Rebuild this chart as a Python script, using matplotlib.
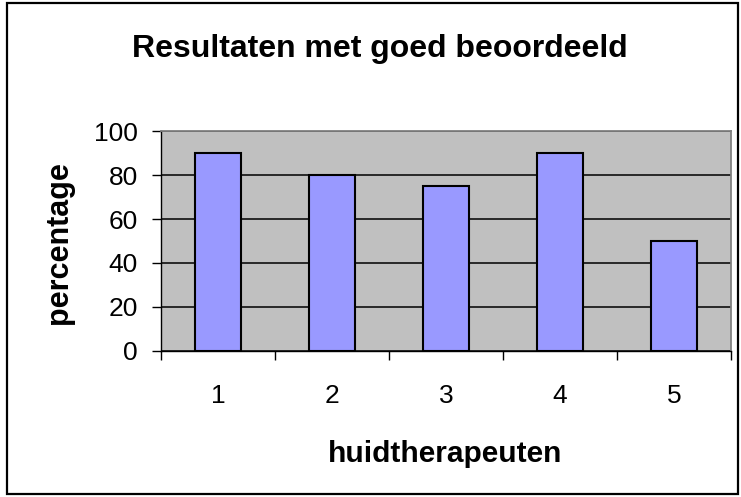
import numpy as np
import matplotlib.pyplot as plt
from matplotlib.patches import Rectangle

# data
categories = ['1', '2', '3', '4', '5']
percentages = [90, 80, 75, 90, 50]

plt.rcParams['font.family'] = ['Liberation Sans', 'DejaVu Sans']

W, H = 741, 497
fig = plt.figure(figsize=(W / 100, H / 100), dpi=100)

# outer chart border
fig.patches.append(Rectangle((7 / W, 3 / H), 731 / W, 491 / H, transform=fig.transFigure,
                             fill=False, edgecolor='black', linewidth=1.6))

ax = fig.add_axes([161 / W, (H - 351) / H, 570 / W, 220 / H])
ax.set_facecolor('#C0C0C0')

xs = np.arange(len(categories))
ax.bar(xs, percentages, width=0.4, color='#9999FF', edgecolor='black', linewidth=1.5, zorder=3)

ax.set_xlim(-0.5, len(categories) - 0.5)
ax.set_ylim(0, 100)
ax.set_yticks(np.arange(0, 101, 20))
ax.yaxis.grid(True, color='black', linewidth=1.1, zorder=1)
ax.set_axisbelow(True)

# category ticks between bars, labels centred under bars
ax.set_xticks(np.arange(-0.5, len(categories)), minor=False)
ax.set_xticklabels([])
ax.set_xticks(xs, minor=True)
ax.set_xticklabels(categories, minor=True, fontsize=19)
ax.tick_params(axis='x', which='minor', length=0, pad=24)
ax.tick_params(axis='x', which='major', length=6.5, width=1, direction='out', color='black')
ax.tick_params(axis='y', length=6.5, width=1, direction='out', labelsize=19, pad=10)

for side in ['top', 'right']:
    ax.spines[side].set_color('#808080')
    ax.spines[side].set_linewidth(1.3)
for side in ['left', 'bottom']:
    ax.spines[side].set_color('black')
    ax.spines[side].set_linewidth(1.0)

fig.text(59 / W, 1 - 243 / H, 'percentage', rotation=90, ha='center', va='center',
         fontsize=22, fontweight='bold')
fig.text(445 / W, 1 - 462 / H, 'huidtherapeuten', ha='center', va='baseline',
         fontsize=21.5, fontweight='bold')
fig.text(380 / W, 1 - 57 / H, 'Resultaten met goed beoordeeld', ha='center', va='baseline',
         fontsize=23, fontweight='bold')

fig.savefig('out.png', dpi=100)
